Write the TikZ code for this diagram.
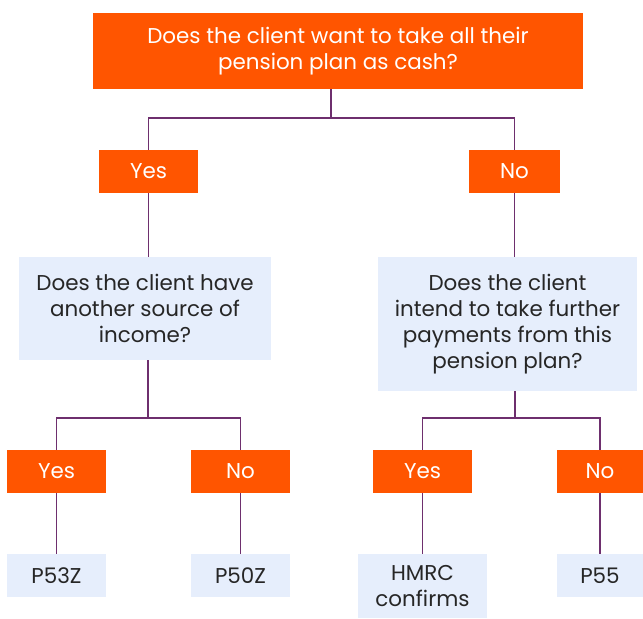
\documentclass[tikz,border=0pt]{standalone}
\usepackage{fontspec}
\setmainfont{Poppins}
\usepackage{tikz}
\usetikzlibrary{positioning,calc}

\definecolor{pensionorange}{HTML}{FF5500}
\definecolor{answerblue}{HTML}{E6EEFC}
\definecolor{linkpurple}{HTML}{6E2F6E}

\begin{document}
\begin{tikzpicture}[x=0.02cm, y=-0.02cm,
        every node/.style={font=\fontsize{12.2}{14.8}\selectfont, align=center, inner sep=0pt},
        asknode/.style={rectangle, fill=pensionorange, text=white},
        choicenode/.style={rectangle, fill=pensionorange, text=white, minimum width=1.98cm, minimum height=0.86cm},
        infonode/.style={rectangle, fill=answerblue, text=black!85},
        formnode/.style={rectangle, fill=answerblue, text=black!85, minimum width=1.98cm, minimum height=0.86cm},
        link/.style={draw=linkpurple, line width=0.8pt}
    ]
    \useasboundingbox (0,0) rectangle (643,619);

    % Junctions
    \coordinate (j1) at (331,118);
    \coordinate (j2) at (148,418);
    \coordinate (j3) at (515,418);

    % Nodes
    \node[asknode, minimum width=9.8cm, minimum height=1.52cm] (cash) at (338,51)
        {Does the client want to take all their\\pension plan as cash?};

    \node[choicenode] (yesA) at (148.5,171.5) {Yes};
    \node[choicenode, minimum width=1.82cm] (noA) at (514.5,171.5) {No};

    \node[infonode, minimum width=5.04cm, minimum height=2.06cm] (income) at (145,308.5)
        {Does the client have\\another source of\\income?};
    \node[infonode, minimum width=5.18cm, minimum height=2.68cm] (further) at (507.5,324)
        {Does the client\\intend to take further\\payments from this\\pension plan?};

    \node[choicenode] (yesB) at (56.5,471.5) {Yes};
    \node[choicenode] (noB) at (240.5,471.5) {No};
    \node[choicenode] (yesC) at (422.5,471.5) {Yes};
    \node[choicenode, minimum width=1.72cm] (noC) at (600,471.5) {No};

    \node[formnode] (p53z) at (56.5,575.5) {P53Z};
    \node[formnode] (p50z) at (240.5,575.5) {P50Z};
    \node[infonode, minimum width=2.58cm, minimum height=1.28cm] (hmrc) at (422.5,586)
        {HMRC\\confirms};
    \node[formnode, minimum width=1.72cm] (p55) at (600,575.5) {P55};

    % Edges
    \draw[link] (cash.south -| j1) -- (j1) -| (yesA);
    \draw[link] (j1) -| (noA);

    \draw[link] (yesA) -- (yesA |- income.north);
    \draw[link] (noA) -- (noA |- further.north);

    \draw[link] (income.south -| j2) -- (j2) -| (yesB);
    \draw[link] (j2) -| (noB);
    \draw[link] (further.south -| j3) -- (j3) -| (yesC);
    \draw[link] (j3) -| (noC);

    \draw[link] (yesB) -- (p53z);
    \draw[link] (noB) -- (p50z);
    \draw[link] (yesC) -- (hmrc);
    \draw[link] (noC) -- (p55);
\end{tikzpicture}
\end{document}
